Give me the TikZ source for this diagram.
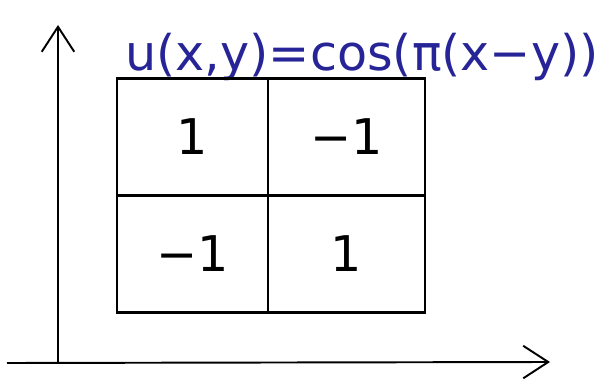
\documentclass[tikz,border=0pt]{standalone}
\usepackage{fontspec}
\setmainfont{DejaVu Sans}
\usepackage{tikz}
\usetikzlibrary{positioning,arrows.meta}
\definecolor{inkblue}{RGB}{38,36,150}

\begin{document}
\begin{tikzpicture}[x=0.02cm,y=-0.02cm,
    cell/.style={rectangle,draw,line width=1.4pt,outer sep=0pt,minimum width=3.02cm,minimum height=2.34cm,font=\fontsize{28}{28}\selectfont},
    axis/.style={line width=1.1pt,-{Straight Barb[length=5mm,width=6.5mm,line width=1.1pt]}}]
\useasboundingbox (0,0) rectangle (608,381);

\node[font=\fontsize{28}{28}\selectfont,text=inkblue,inner sep=0pt] (title) at (362,57) {u(x,y)=cos(π(x−y))};

\node[cell] (c11) at (192.5,137) {1};
\node[cell,minimum width=3.14cm,right=0pt of c11] (c12) {−1};
\node[cell,below=0pt of c11] (c21) {−1};
\node[cell,minimum width=3.14cm,right=0pt of c21] (c22) {1};

\coordinate (origin) at (58,362);
\coordinate (xend) at (550,362);
\coordinate (yend) at (58,25);
\coordinate (xstart) at (7,363);
\draw[axis] (origin) -- (yend);
\draw[axis] (xstart) -- (xend);

\end{tikzpicture}
\end{document}
